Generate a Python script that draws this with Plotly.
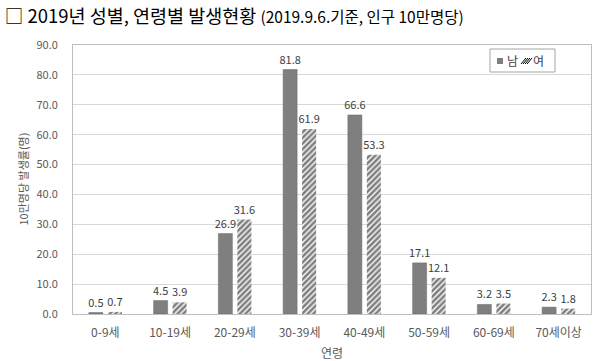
import plotly.graph_objects as go

categories = ["0-9세", "10-19세", "20-29세", "30-39세", "40-49세", "50-59세", "60-69세", "70세이상"]
male = [0.5, 4.5, 26.9, 81.8, 66.6, 17.1, 3.2, 2.3]
female = [0.7, 3.9, 31.6, 61.9, 53.3, 12.1, 3.5, 1.8]
y_ticks = [0, 10, 20, 30, 40, 50, 60, 70, 80, 90]

FONT = "Noto Sans CJK KR, Malgun Gothic, sans-serif"
L, R, T, B, W, H = 73, 9, 45, 47, 600, 361
PW, PH = W - L - R, H - T - B


def px(x):
    return (x - L) / PW


def py(y):
    return (H - B - y) / PH


fig = go.Figure()
fig.add_trace(go.Bar(
    name="남", x=categories, y=male,
    marker=dict(color="#7f7f7f", line=dict(color="#6b6b6b", width=0.5)),
    text=[f"{v:.1f}" for v in male], textposition="outside", constraintext="none",
    textfont=dict(size=11, color="#404040", family=FONT),
    cliponaxis=False, showlegend=False,
))
fig.add_trace(go.Bar(
    name="여", x=categories, y=female,
    marker=dict(color="white", line=dict(width=0),
                pattern=dict(shape="/", fgcolor="black", bgcolor="white", size=4, solidity=0.65)),
    text=[f"{v:.1f}" for v in female], textposition="outside", constraintext="none",
    textfont=dict(size=11, color="#404040", family=FONT),
    cliponaxis=False, showlegend=False,
))

fig.update_layout(
    width=W, height=H,
    margin=dict(l=L, r=R, t=T, b=B, autoexpand=False),
    paper_bgcolor="white", plot_bgcolor="white",
    barmode="group", bargap=0.413, bargroupgap=0.263,
    font=dict(family=FONT, color="#595959"),
    title=dict(
        text="□ 2019년 성별, 연령별 발생현황 <span style='font-size:15.5px'>(2019.9.6.기준, 인구 10만명당)</span>",
        font=dict(size=18.5, color="black", family=FONT),
        xref="container", yref="container", x=0.008, xanchor="left", y=0.955, yanchor="middle",
    ),
    showlegend=False,
)
fig.update_xaxes(
    showline=True, linecolor="#bfbfbf", linewidth=1, mirror=True,
    tickfont=dict(size=12, color="#595959"), ticks="", ticklabelstandoff=8,
)
fig.update_yaxes(
    range=[0, 90], tickvals=y_ticks, tickformat=".1f",
    showgrid=True, gridcolor="#d9d9d9", gridwidth=1,
    showline=True, linecolor="#bfbfbf", linewidth=1, mirror=True,
    tickfont=dict(size=11, color="#595959"), ticks="", ticklabelstandoff=12,
    zeroline=False,
)
fig.add_annotation(text="연령", xref="paper", yref="paper", x=0.5, y=py(352),
                   xanchor="center", yanchor="middle", showarrow=False,
                   font=dict(size=12, color="#595959"))
fig.add_annotation(text="10만명당 발생률(명)", xref="paper", yref="paper", x=px(22), y=0.5,
                   xanchor="center", yanchor="middle", showarrow=False, textangle=-90,
                   font=dict(size=11, color="#595959"))

# manual legend
fig.add_shape(type="rect", xref="paper", yref="paper", x0=px(490), x1=px(555), y0=py(72), y1=py(49),
              line=dict(color="#a6a6a6", width=1), fillcolor="white", layer="above")
fig.add_shape(type="rect", xref="paper", yref="paper", x0=px(497), x1=px(503), y0=py(64), y1=py(58),
              line=dict(width=0), fillcolor="#7f7f7f", layer="above")
fig.add_annotation(text="남", xref="paper", yref="paper", x=px(505), y=py(61), xanchor="left",
                   yanchor="middle", showarrow=False, font=dict(size=12, color="#404040"))
for i in range(4):
    x0 = 521 + i * 2
    fig.add_shape(type="line", xref="paper", yref="paper", x0=px(x0), y0=py(64), x1=px(x0 + 5), y1=py(58),
                  line=dict(color="black", width=1), layer="above")
fig.add_annotation(text="여", xref="paper", yref="paper", x=px(531), y=py(61), xanchor="left",
                   yanchor="middle", showarrow=False, font=dict(size=12, color="#404040"))

fig.write_html("out.html", config={"displayModeBar": False},
               post_script="document.body.style.margin='0';document.body.style.padding='0';")
